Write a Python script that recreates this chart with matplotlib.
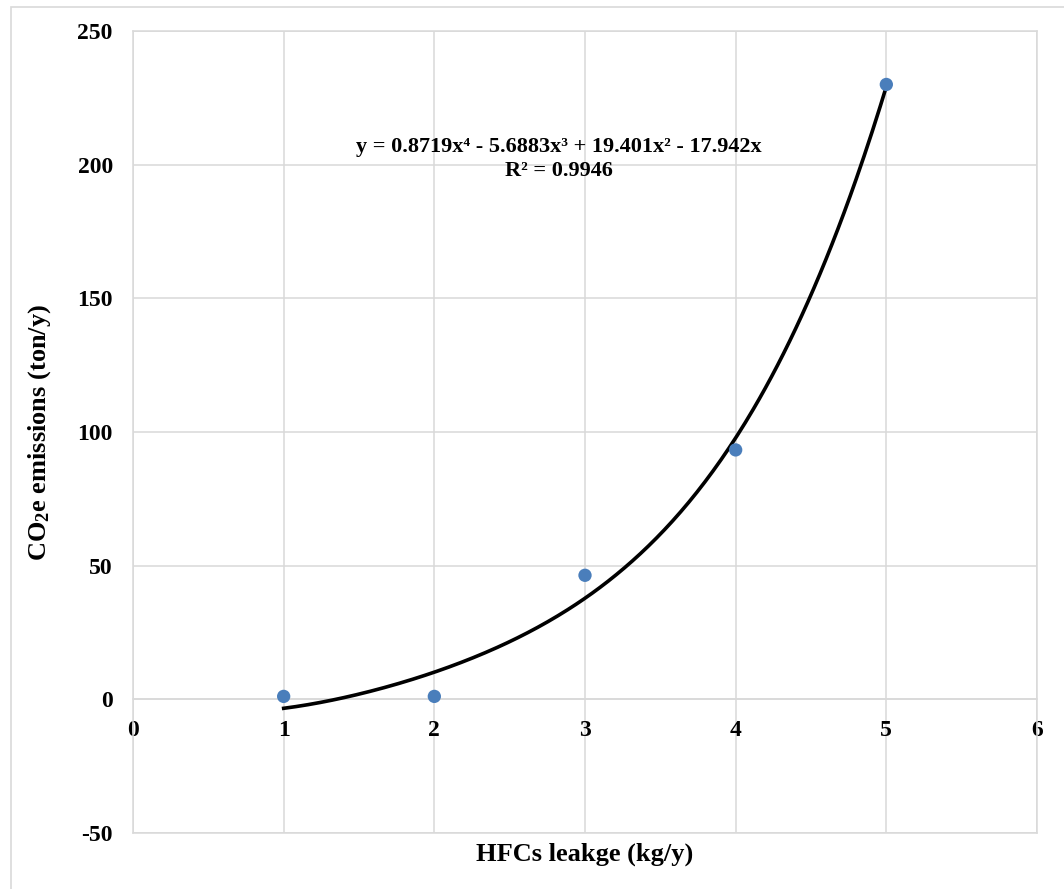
import matplotlib
matplotlib.use("Agg")
import matplotlib.pyplot as plt
from matplotlib.patches import Rectangle
import numpy as np

# data
leakage = [1, 2, 3, 4, 5]                 # HFCs leakage (kg/y)
emissions = [1.1, 1.1, 46.4, 93.3, 230.0]  # CO2e emissions (ton/y)

# trendline coefficients shown on the chart (x^4 .. x^0)
trend_coef = [0.8719, -5.6883, 19.401, -17.942, 0.0]
trend_label = "y = 0.8719x\u2074 - 5.6883x\u00b3 + 19.401x\u00b2 - 17.942x\nR\u00b2 = 0.9946"

x_ticks = [0, 1, 2, 3, 4, 5, 6]
y_ticks = [-50, 0, 50, 100, 150, 200, 250]

plt.rcParams["font.family"] = ["Liberation Serif", "DejaVu Serif"]
plt.rcParams["font.weight"] = "bold"
plt.rcParams["axes.unicode_minus"] = False
plt.rcParams["mathtext.fontset"] = "custom"
plt.rcParams["mathtext.rm"] = "Liberation Serif:bold"
plt.rcParams["mathtext.it"] = "Liberation Serif:bold"
plt.rcParams["mathtext.bf"] = "Liberation Serif:bold"

GRID = "#D9D9D9"

fig = plt.figure(figsize=(10.64, 8.89), dpi=100)
# outer chart-area border
fig.patches.append(Rectangle((11 / 1064, -0.1), 1.2, 1.1 - 7 / 889,
                             transform=fig.transFigure, fill=False,
                             edgecolor=GRID, linewidth=1.2))
ax = fig.add_axes([133 / 1064, 1 - 833 / 889, 904 / 1064, 802 / 889])

ax.set_xlim(0, 6)
ax.set_ylim(-50, 250)
ax.set_xticks(x_ticks)
ax.set_yticks(y_ticks)
ax.grid(True, color=GRID, linewidth=1.1)
ax.set_axisbelow(True)

for side in ("left", "top", "right", "bottom"):
    ax.spines[side].set_color(GRID)
    ax.spines[side].set_linewidth(1.1)
# x axis crosses at y = 0, like the Excel original
ax.spines["bottom"].set_position(("data", 0))
ax.axhline(-50, color=GRID, linewidth=1.1, clip_on=False)

ax.tick_params(length=0, labelsize=17)
ax.tick_params(axis="x", pad=15)
ax.tick_params(axis="y", pad=14.5)
for lab in ax.get_xticklabels() + ax.get_yticklabels():
    lab.set_fontweight("bold")

xs = np.linspace(leakage[0], leakage[-1], 300)
ax.plot(xs, np.polyval(trend_coef, xs), color="black", linewidth=2.6, zorder=3)
ax.scatter(leakage, emissions, s=92, color="#4A7EBB", zorder=4, edgecolors="none")

ax.text(2.827, 202.0, trend_label, ha="center", va="center", fontsize=16,
        fontweight="bold", linespacing=1.25)

ax.set_xlabel("HFCs leakge (kg/y)", fontsize=19, fontweight="bold")
ax.xaxis.set_label_coords(0.5, -0.012)
ax.set_ylabel("CO$_2$e emissions (ton/y)", fontsize=19, fontweight="bold")
ax.yaxis.set_label_coords(-0.088, 0.5)

fig.savefig("out.png", dpi=100)
